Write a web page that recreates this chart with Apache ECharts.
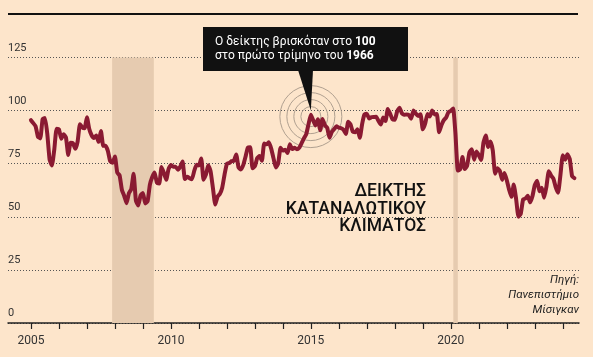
<!DOCTYPE html>
<html><head><meta charset="utf-8">
<script src="https://cdn.jsdelivr.net/npm/echarts@6/dist/echarts.min.js"></script>
<style>html,body{margin:0;padding:0;background:#fde5cb;} #c{width:593px;height:357px;}</style>
</head><body><div id="c"></div>
<script>
// Monthly index values, starting January 2005
const startYear = 2005;
const v2005 = [95.5,94.1,92.6,87.7,86.9,96.0,96.5,89.1,76.9,74.2,81.6,91.5];
const v2006 = [91.2,86.7,88.9,87.4,79.1,84.9,84.7,82.0,85.4,93.6,92.1,91.7];
const v2007 = [96.9,91.3,88.4,87.1,88.3,85.3,90.4,83.4,83.4,80.9,76.1,75.5];
const v2008 = [78.4,70.8,69.5,62.6,59.8,56.4,61.2,63.0,70.3,57.6,55.3,60.1];
const v2009 = [61.2,56.3,57.3,65.1,68.7,70.8,66.0,65.7,73.5,70.6,67.4,72.5];
const v2010 = [74.4,73.6,73.6,72.2,73.6,76.0,67.8,68.9,68.2,67.7,71.6,74.5];
const v2011 = [74.2,77.5,67.5,69.8,74.3,71.5,63.7,55.8,59.5,60.8,63.7,69.9];
const v2012 = [75.0,75.3,76.2,76.4,79.3,73.2,72.3,74.3,78.3,82.6,82.7,72.9];
const v2013 = [73.8,77.6,78.6,76.4,84.5,84.1,85.1,82.1,77.5,73.2,75.1,82.5];
const v2014 = [81.2,81.6,80.0,84.1,81.9,82.5,81.8,82.5,84.6,86.9,88.8,93.6];
const v2015 = [98.1,95.4,93.0,95.9,90.7,96.1,93.1,91.9,87.2,90.0,91.3,92.6];
const v2016 = [92.0,91.7,91.0,89.0,94.7,93.5,90.0,89.8,91.2,87.2,93.8,98.2];
const v2017 = [98.5,96.3,96.9,97.0,97.1,95.1,93.4,96.8,95.1,100.7,98.5,95.9];
const v2018 = [95.7,99.7,101.4,98.8,98.0,98.2,97.9,96.2,100.1,98.6,97.5,98.3];
const v2019 = [91.2,93.8,98.4,97.2,100.0,98.2,98.4,89.8,93.2,95.5,96.8,99.3];
const v2020 = [99.8,101.0,89.1,71.8,72.3,78.1,72.5,74.1,80.4,81.8,76.9,80.7];
const v2021 = [79.0,76.8,84.9,88.3,82.9,85.5,81.2,70.3,72.8,71.7,67.4,70.6];
const v2022 = [67.2,62.8,59.4,65.2,58.4,50.0,51.5,58.2,58.6,59.9,56.8,59.7];
const v2023 = [64.9,67.0,62.0,63.7,59.0,64.2,71.5,69.4,67.9,63.8,61.3,69.7];
const v2024 = [79.0,76.9,79.4,77.2,69.1,68.2];

const yTicks = [0,25,50,75,100,125];
const xTickYears = [2005,2006,2007,2008,2009,2010,2011,2012,2013,2014,2015,2016,2017,2018,2019,2020,2021,2022,2023,2024];
const xLabelYears = [2005,2010,2015,2020];
const shadedPeriods = [[2007.9,2009.39],[2020.09,2020.25]];
const annotationPoint = [2015.0, 100];
const titleLines = ['ΔΕΙΚΤΗΣ','ΚΑΤΑΝΑΛΩΤΙΚΟΥ','ΚΛΙΜΑΤΟΣ'];
const sourceLines = ['Πηγή:','Πανεπιστήμιο','Μίσιγκαν'];

const allValues = [].concat(v2005,v2006,v2007,v2008,v2009,v2010,v2011,v2012,v2013,v2014,v2015,v2016,v2017,v2018,v2019,v2020,v2021,v2022,v2023,v2024);
const seriesData = allValues.map((v,i)=>[startYear + i/12, v]);

const chart = echarts.init(document.getElementById('c'), null, {renderer:'canvas'});
const FONT = 'Roboto, "Liberation Sans", sans-serif';

chart.setOption({
  backgroundColor: '#fde5cb',
  animation: false,
  grid: {left: 8, right: 14, top: 57.5, bottom: 34},
  xAxis: {
    type: 'value', min: 2004.18, max: 2024.58,
    splitLine: {show: false},
    axisLine: {show: true, lineStyle: {color: '#222', width: 1.5}},
    axisTick: {show: true, customValues: xTickYears, length: 6, lineStyle: {color: '#222', width: 1.2}},
    axisLabel: {customValues: xLabelYears, fontSize: 12, color: '#333', margin: 12, fontFamily: FONT,
      formatter: v => String(Math.round(v))}
  },
  yAxis: {
    type: 'value', min: 0, max: 125, interval: 25,
    axisLine: {show: false}, axisTick: {show: false},
    splitLine: {show: true, lineStyle: {color: '#555', width: 1, type: [1, 2]}},
    axisLabel: {inside: true, margin: 0, verticalAlign: 'bottom', padding: [0,0,4,0],
      fontSize: 11, color: '#333', fontFamily: FONT,
      formatter: v => yTicks.includes(v) ? String(v) : ''}
  },
  series: [
    {
      type: 'line', data: [], silent: true, z: 1,
      markArea: {silent: true, itemStyle: {color: '#e6cbb0'},
        data: shadedPeriods.map(p => [{xAxis: p[0], yAxis: 0}, {xAxis: p[1], yAxis: 125}])}
    },
    {
      type: 'line', data: seriesData, showSymbol: false, z: 5, smooth: 0.15,
      lineStyle: {color: '#8a1a32', width: 4, join: 'round', cap: 'round'}
    }
  ]
});

function drawGraphics(){
  const tip = chart.convertToPixel({gridIndex: 0}, annotationPoint);
  const center = [tip[0], tip[1] + 6];
  const rings = [10, 17, 24, 31].map(r => ({
    type: 'circle', shape: {cx: center[0], cy: center[1], r: r}, silent: true, z: 3,
    style: {fill: 'none', stroke: '#b0a090', lineWidth: 1}
  }));
  const elements = [
    {type: 'line', shape: {x1: 8, y1: 14, x2: 578, y2: 14}, style: {stroke: '#111', lineWidth: 2.2}},
    ...rings,
    {type: 'rect', shape: {x: 203, y: 27, width: 205, height: 44}, style: {fill: '#111'}, z: 10},
    {type: 'polygon', shape: {points: [[298, 70], [313, 70], [tip[0], tip[1]]]}, style: {fill: '#111'}, z: 10},
    {type: 'text', x: 215, y: 35.5, z: 11, style: {
      text: '{a|Ο δείκτης βρισκόταν στο }{b|100}\n{a|στο πρώτο τρίμηνο του }{b|1966}',
      fill: '#fff', fontFamily: FONT, fontSize: 12, lineHeight: 13.5,
      rich: {a: {fill: '#fff', fontSize: 12, fontFamily: FONT, lineHeight: 13.5},
             b: {fill: '#fff', fontSize: 12, fontWeight: 'bold', fontFamily: FONT, lineHeight: 13.5}}
    }},
    {type: 'text', x: 426, y: 183, z: 11, style: {
      text: titleLines.join('\n'), fill: '#111', align: 'right',
      fontFamily: FONT, fontWeight: 500, fontSize: 17.5, lineHeight: 17.5
    }},
    {type: 'text', x: 579, y: 272.5, z: 11, style: {
      text: sourceLines.join('\n'), fill: '#222', align: 'right',
      fontFamily: FONT, fontStyle: 'italic', fontSize: 11.5, lineHeight: 15
    }}
  ];
  chart.setOption({graphic: {elements: elements}});
}
drawGraphics();
</script></body></html>
